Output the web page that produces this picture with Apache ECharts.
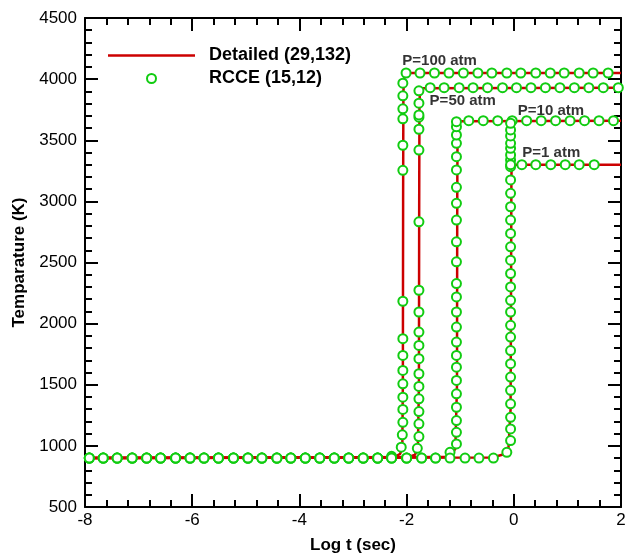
<!DOCTYPE html>
<html>
<head>
<meta charset="utf-8">
<script src="https://cdn.jsdelivr.net/npm/echarts@6/dist/echarts.min.js"></script>
<style>
    html, body { margin: 0; padding: 0; background: #fff; }
    #main { width: 626px; height: 556px; }
</style>
</head>
<body>
<div id="main"></div>
<script>
// 详细机理 (Detailed) 曲线: log t 与温度
var det100_t = [-8, -2.4, -2.2, -2.12, -2.08, -2.07, -2.065, -2.06, -2.04, -2.0, 2];
var det100_T = [900, 905, 915, 935, 980, 1500, 3000, 3900, 4030, 4050, 4050];
var det50_t = [-8, -2.0, -1.85, -1.79, -1.77, -1.765, -1.76, -1.75, -1.72, -1.70, 2];
var det50_T = [900, 905, 925, 970, 1500, 3000, 3800, 3900, 3925, 3930, 3930];
var det10_t = [-8, -1.3, -1.15, -1.09, -1.06, -1.055, -1.05, -1.04, -1.0, -0.98, 2];
var det10_T = [900, 908, 930, 980, 1500, 3000, 3550, 3640, 3655, 3660, 3660];
var det1_t = [-8, -0.4, -0.2, -0.1, -0.06, -0.05, -0.045, -0.04, -0.01, 0.05, 2];
var det1_T = [900, 905, 930, 980, 1300, 2500, 3200, 3280, 3295, 3300, 3300];

// RCCE 点
var rcce100_t = [-7.92, -7.66, -7.40, -7.12, -6.85, -6.59, -6.31, -6.04, -5.78, -5.51, -5.23, -4.96, -4.70, -4.42, -4.16, -3.89, -3.62, -3.35, -3.08, -2.81, -2.54, -2.28,
    -2.10, -2.08, -2.07, -2.07, -2.07, -2.07, -2.07, -2.07, -2.07, -2.07, -2.07, -2.07, -2.07, -2.07, -2.07, -2.07,
    -2.01, -1.75, -1.48, -1.21, -0.94, -0.67, -0.41, -0.13, 0.13, 0.41, 0.68, 0.94, 1.22, 1.48, 1.76];
var rcce100_T = [900, 900, 900, 900, 900, 900, 900, 900, 900, 900, 900, 900, 900, 900, 900, 900, 900, 900, 900, 900, 900, 915,
    989, 1090, 1193, 1298, 1398, 1508, 1617, 1740, 1877, 2183, 3254, 3459, 3675, 3757, 3863, 3967,
    4050, 4050, 4050, 4050, 4050, 4050, 4050, 4050, 4050, 4050, 4050, 4050, 4050, 4050, 4050];
var rcce50_t = [-7.92, -7.66, -7.40, -7.12, -6.85, -6.59, -6.31, -6.04, -5.78, -5.51, -5.23, -4.96, -4.70, -4.42, -4.16, -3.89, -3.62, -3.35, -3.08, -2.81, -2.54, -2.28, -2.00,
    -1.80, -1.77, -1.77, -1.77, -1.77, -1.77, -1.77, -1.77, -1.77, -1.77, -1.77, -1.77, -1.77, -1.77, -1.77, -1.77, -1.77, -1.77, -1.77,
    -1.56, -1.30, -1.02, -0.76, -0.49, -0.21, 0.05, 0.32, 0.59, 0.86, 1.13, 1.40, 1.67, 1.95];
var rcce50_T = [900, 900, 900, 900, 900, 900, 900, 900, 900, 900, 900, 900, 900, 900, 900, 900, 900, 900, 900, 900, 900, 900, 900,
    980, 1076, 1180, 1281, 1385, 1486, 1590, 1713, 1822, 1931, 2095, 2273, 2833, 3420, 3590, 3689, 3707, 3803, 3904,
    3930, 3930, 3930, 3930, 3930, 3930, 3930, 3930, 3930, 3930, 3930, 3930, 3930, 3930];
var rcce10_t = [-7.92, -7.66, -7.40, -7.12, -6.85, -6.59, -6.31, -6.04, -5.78, -5.51, -5.23, -4.96, -4.70, -4.42, -4.16, -3.89, -3.62, -3.35, -3.08, -2.81, -2.54, -2.28, -2.00, -1.72, -1.46,
    -1.19, -1.07, -1.07, -1.07, -1.07, -1.07, -1.07, -1.07, -1.07, -1.07, -1.07, -1.07, -1.07, -1.07, -1.07, -1.07, -1.07, -1.07, -1.07, -1.07, -1.07, -1.07, -1.07, -1.07, -1.07,
    -0.84, -0.57, -0.30, -0.03, 0.24, 0.51, 0.78, 1.05, 1.32, 1.59, 1.86];
var rcce10_T = [900, 900, 900, 900, 900, 900, 900, 900, 900, 900, 900, 900, 900, 900, 900, 900, 900, 900, 900, 900, 900, 900, 900, 900, 900,
    947, 1016, 1111, 1207, 1316, 1426, 1535, 1644, 1740, 1849, 1972, 2095, 2218, 2328, 2506, 2669, 2847, 2984, 3115, 3257, 3366, 3475, 3543, 3611, 3652,
    3660, 3660, 3660, 3660, 3660, 3660, 3660, 3660, 3660, 3660, 3660];
var rcce1_t = [-7.92, -7.66, -7.40, -7.12, -6.85, -6.59, -6.31, -6.04, -5.78, -5.51, -5.23, -4.96, -4.70, -4.42, -4.16, -3.89, -3.62, -3.35, -3.08, -2.81, -2.54, -2.28, -2.00, -1.72, -1.46, -1.19, -0.91, -0.65, -0.38,
    -0.13, -0.06, -0.06, -0.06, -0.06, -0.06, -0.06, -0.06, -0.06, -0.06, -0.06, -0.06, -0.06, -0.06, -0.06, -0.06, -0.06, -0.06, -0.06, -0.06, -0.06, -0.06, -0.06, -0.06, -0.06, -0.06, -0.06, -0.06, -0.06, -0.06, -0.06,
    0.15, 0.41, 0.69, 0.96, 1.22, 1.50, 1.76];
var rcce1_T = [900, 900, 900, 900, 900, 900, 900, 900, 900, 900, 900, 900, 900, 900, 900, 900, 900, 900, 900, 900, 900, 900, 900, 900, 900, 900, 900, 900, 900,
    947, 1043, 1139, 1234, 1344, 1454, 1563, 1672, 1780, 1890, 1986, 2095, 2191, 2300, 2410, 2519, 2628, 2738, 2847, 2956, 3066, 3175, 3284, 3339, 3380, 3434, 3475, 3535, 3584, 3639,
    3300, 3300, 3300, 3300, 3300, 3300, 3300];

// 压力标注
var labelText = ['P=100 atm', 'P=50 atm', 'P=10 atm', 'P=1 atm'];
var labelT = [-2.09, -1.58, 0.065, 0.15];
var labelY = [4150, 3822, 3743, 3393];

var detName = 'Detailed (29,132)';
var rcceName = 'RCCE (15,12)';
var fontName = '"Liberation Sans", Arial, sans-serif';

function pairs(xs, ys) {
    var out = [];
    for (var i = 0; i < xs.length; i++) {
        out.push([xs[i], ys[i]]);
    }
    return out;
}

function lineSeries(xs, ys) {
    return {
        name: detName,
        type: 'line',
        symbol: 'none',
        z: 2,
        lineStyle: { color: '#cc0000', width: 2.5 },
        itemStyle: { color: '#cc0000' },
        data: pairs(xs, ys)
    };
}

function rcceSeries(xs, ys) {
    return {
        name: rcceName,
        type: 'scatter',
        symbol: 'circle',
        symbolSize: 9,
        z: 3,
        itemStyle: { color: '#ffffff', borderColor: '#11cc11', borderWidth: 2, opacity: 1 },
        data: pairs(xs, ys)
    };
}

function axisBase(pos, showLabel) {
    return {
        axisLine: { onZero: false, lineStyle: { color: '#000', width: 2 } },
        axisTick: { show: true, inside: true, length: 13, lineStyle: { color: '#000', width: 2 } },
        minorTick: { show: true, splitNumber: 5, length: 7, lineStyle: { color: '#000', width: 2 } },
        splitLine: { show: false },
        axisLabel: {
            show: showLabel,
            color: '#000',
            fontSize: 17,
            fontFamily: fontName,
            formatter: function (v) { return String(v); }
        },
        position: pos
    };
}

function chart_temp(id) {
    var main = echarts.init(document.getElementById(id));

    var xBottom = axisBase('bottom', true);
    xBottom.type = 'value';
    xBottom.min = -8;
    xBottom.max = 2;
    xBottom.interval = 2;
    xBottom.axisLabel.margin = 5;
    xBottom.name = 'Log t (sec)';
    xBottom.nameLocation = 'middle';
    xBottom.nameGap = 30;
    xBottom.nameTextStyle = { fontSize: 17, fontWeight: 'bold', color: '#000', fontFamily: fontName };

    var xTop = axisBase('top', false);
    xTop.type = 'value';
    xTop.min = -8;
    xTop.max = 2;
    xTop.interval = 2;

    var yLeft = axisBase('left', true);
    yLeft.type = 'value';
    yLeft.min = 500;
    yLeft.max = 4500;
    yLeft.interval = 500;
    yLeft.axisLabel.margin = 8;
    yLeft.name = 'Temparature (K)';
    yLeft.nameLocation = 'middle';
    yLeft.nameGap = 54;
    yLeft.nameTextStyle = { fontSize: 17, fontWeight: 'bold', color: '#000', fontFamily: fontName };

    var yRight = axisBase('right', false);
    yRight.type = 'value';
    yRight.min = 500;
    yRight.max = 4500;
    yRight.interval = 500;

    var series = [
        lineSeries(det100_t, det100_T),
        lineSeries(det50_t, det50_T),
        lineSeries(det10_t, det10_T),
        lineSeries(det1_t, det1_T),
        rcceSeries(rcce100_t, rcce100_T),
        rcceSeries(rcce50_t, rcce50_T),
        rcceSeries(rcce10_t, rcce10_T),
        rcceSeries(rcce1_t, rcce1_T)
    ];

    var labelData = [];
    for (var i = 0; i < labelText.length; i++) {
        labelData.push([labelT[i], labelY[i], labelText[i]]);
    }
    series.push({
        name: 'labels',
        type: 'scatter',
        symbolSize: 1,
        z: 5,
        itemStyle: { color: 'transparent' },
        label: {
            show: true,
            position: 'right',
            distance: 0,
            formatter: function (p) { return p.data[2]; },
            fontSize: 15,
            fontWeight: 'bold',
            color: '#000',
            fontFamily: fontName
        },
        data: labelData
    });

    var option = {
        animation: false,
        backgroundColor: '#ffffff',
        grid: {
            left: 85,
            right: 5,
            top: 18,
            bottom: 49,
            outerBoundsMode: 'none'
        },
        legend: {
            data: [
                { name: detName, icon: 'path://M0,0H87V2.5H0Z' },
                { name: rcceName }
            ],
            orient: 'vertical',
            left: 108,
            top: 45,
            padding: 0,
            itemGap: 2,
            itemWidth: 87,
            itemHeight: 9,
            textStyle: {
                fontSize: 18,
                fontWeight: 'bold',
                color: '#000',
                fontFamily: fontName,
                lineHeight: 21,
                padding: [0, 0, 0, 9]
            }
        },
        xAxis: [xBottom, xTop],
        yAxis: [yLeft, yRight],
        series: series
    };
    main.setOption(option);
}

chart_temp('main');
</script>
</body>
</html>
